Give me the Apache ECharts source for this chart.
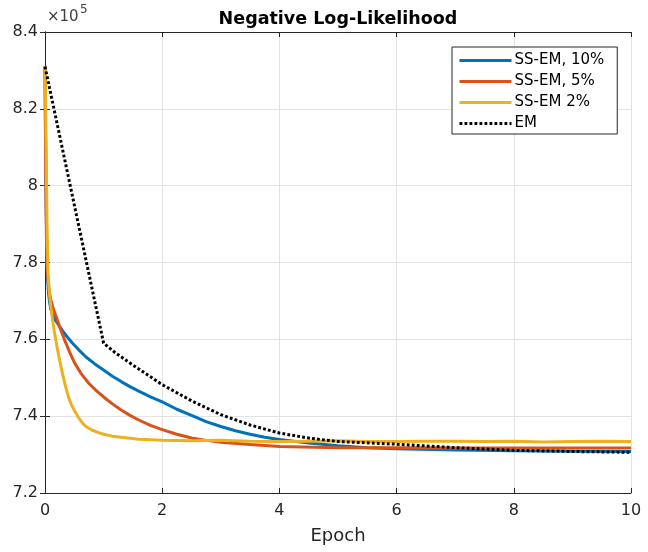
<!DOCTYPE html>
<html>
<head>
<meta charset="utf-8">
<script src="https://cdn.jsdelivr.net/npm/echarts@6/dist/echarts.min.js"></script>
<style>
  html, body { margin: 0; padding: 0; background: #fff; }
  #chart { width: 648px; height: 552px; }
</style>
</head>
<body>
<div id="chart"></div>
<script>
// values in units of 1e5
var ss10Epoch = [0, 0.01, 0.02, 0.03, 0.045, 0.06, 0.08, 0.1, 0.13, 0.17, 0.22, 0.3, 0.38, 0.47, 0.58, 0.7, 0.85, 1.0, 1.15, 1.3, 1.45, 1.6, 1.8, 2.0, 2.25, 2.5, 2.75, 3.0, 3.25, 3.5, 3.75, 4.0, 4.5, 5.0, 5.5, 6.0, 7.0, 8.0, 9.0, 10.0];
var ss10Value = [8.31, 8.12, 7.95, 7.84, 7.76, 7.72, 7.695, 7.678, 7.664, 7.652, 7.64, 7.622, 7.606, 7.59, 7.572, 7.554, 7.536, 7.52, 7.504, 7.49, 7.477, 7.465, 7.45, 7.437, 7.418, 7.402, 7.386, 7.373, 7.362, 7.353, 7.345, 7.339, 7.330, 7.323, 7.318, 7.315, 7.312, 7.310, 7.309, 7.308];

var ss5Epoch = [0, 0.008, 0.016, 0.025, 0.035, 0.05, 0.07, 0.1, 0.14, 0.2, 0.26, 0.33, 0.42, 0.5, 0.62, 0.75, 0.88, 1.0, 1.15, 1.3, 1.45, 1.6, 1.8, 2.0, 2.25, 2.5, 2.75, 3.0, 3.5, 4.0, 5.0, 6.0, 7.0, 8.0, 9.0, 10.0];
var ss5Value = [8.31, 8.12, 7.97, 7.86, 7.79, 7.755, 7.728, 7.703, 7.68, 7.655, 7.628, 7.60, 7.567, 7.54, 7.51, 7.485, 7.466, 7.450, 7.432, 7.416, 7.402, 7.39, 7.376, 7.365, 7.353, 7.343, 7.337, 7.332, 7.326, 7.321, 7.318, 7.318, 7.317, 7.317, 7.317, 7.317];

var ss2Epoch = [0, 0.01, 0.02, 0.035, 0.05, 0.075, 0.1, 0.13, 0.16, 0.2, 0.25, 0.3, 0.35, 0.4, 0.45, 0.5, 0.57, 0.65, 0.72, 0.8, 0.9, 1.0, 1.15, 1.3, 1.6, 2.0, 2.5, 3.0, 3.5, 4.0, 4.5, 5.0, 5.5, 6.0, 6.5, 7.0, 7.5, 8.0, 8.5, 9.0, 9.5, 10.0];
var ss2Value = [8.31, 8.22, 8.10, 7.90, 7.78, 7.72, 7.685, 7.65, 7.62, 7.585, 7.545, 7.51, 7.478, 7.45, 7.43, 7.415, 7.397, 7.38, 7.371, 7.364, 7.358, 7.353, 7.348, 7.345, 7.340, 7.337, 7.336, 7.337, 7.335, 7.334, 7.335, 7.336, 7.334, 7.334, 7.335, 7.335, 7.334, 7.335, 7.333, 7.334, 7.335, 7.334];

var emEpoch = [0, 1.0, 1.2, 1.5, 2.0, 2.5, 3.0, 3.5, 4.0, 4.5, 5.0, 6.0, 7.0, 8.0, 9.0, 10.0];
var emValue = [8.31, 7.59, 7.565, 7.533, 7.482, 7.44, 7.404, 7.377, 7.356, 7.343, 7.334, 7.327, 7.318, 7.311, 7.308, 7.306];

var xTicks = [0, 10, 2];       // min, max, interval
var yTicks = [7.2, 8.4, 0.2];

var seriesNames = ['SS-EM, 10%', 'SS-EM, 5%', 'SS-EM 2%', 'EM'];
var seriesColors = ['#0072BD', '#D95319', '#EDB120', '#000000'];

function pairs(xs, ys) {
    var out = [];
    for (var i = 0; i < xs.length; i++) out.push([xs[i], ys[i]]);
    return out;
}

var font = 'DejaVu Sans';
var axisColor = '#262626';
var lineW = 3;
var dots = [2.8, 2.2];
var myChart = echarts.init(document.getElementById('chart'), null, { renderer: 'canvas' });

function lineSeries(idx, data, dashed) {
    return {
        name: seriesNames[idx],
        type: 'line',
        data: data,
        showSymbol: false,
        symbol: 'none',
        color: seriesColors[idx],
        lineStyle: { width: lineW, color: seriesColors[idx], type: dashed ? dots : 'solid' },
        animation: false,
        z: 2 + idx
    };
}

var hiddenAxis = {
    axisLabel: { show: false },
    splitLine: { show: false },
    axisLine: { show: true, lineStyle: { color: axisColor, width: 1 } },
    axisTick: { show: true, inside: true, length: 5, lineStyle: { color: axisColor } }
};

var legendData = seriesNames.map(function (n, i) {
    return {
        name: n,
        itemStyle: { opacity: 0 },
        lineStyle: { width: lineW, color: seriesColors[i], type: i === 3 ? dots : 'solid' }
    };
});

myChart.setOption({
    animation: false,
    title: {
        text: 'Negative Log-Likelihood',
        left: 333,
        textAlign: 'center',
        top: 5,
        textStyle: { fontFamily: font, fontSize: 17.5, fontWeight: 'bold', color: '#000' }
    },
    legend: {
        orient: 'vertical',
        left: 452,
        top: 47,
        padding: [6, 13, 3, 6],
        itemWidth: 52,
        itemHeight: 14,
        itemGap: 6,
        backgroundColor: '#fff',
        borderColor: '#262626',
        borderWidth: 1,
        borderRadius: 0,
        textStyle: { fontFamily: font, fontSize: 15, color: '#000', lineHeight: 15, padding: [0, 0, 0, -2] },
        data: legendData
    },
    grid: { left: 45, right: 17, top: 32, bottom: 59 },
    xAxis: [{
        type: 'value',
        min: xTicks[0], max: xTicks[1], interval: xTicks[2],
        name: 'Epoch',
        nameLocation: 'middle',
        nameGap: 34,
        nameTextStyle: { fontFamily: font, fontSize: 18, color: axisColor },
        axisLine: { show: true, onZero: false, lineStyle: { color: axisColor, width: 1 } },
        axisTick: { show: true, inside: true, length: 5, lineStyle: { color: axisColor } },
        axisLabel: { fontFamily: font, fontSize: 16, color: axisColor, margin: 10 },
        splitLine: { show: true, lineStyle: { color: '#e3e3e3', width: 1 } }
    }, Object.assign({
        type: 'value', position: 'top',
        min: xTicks[0], max: xTicks[1], interval: xTicks[2]
    }, hiddenAxis)],
    yAxis: [{
        type: 'value',
        min: yTicks[0], max: yTicks[1], interval: yTicks[2],
        axisLine: { show: true, onZero: false, lineStyle: { color: axisColor, width: 1 } },
        axisTick: { show: true, inside: true, length: 5, lineStyle: { color: axisColor } },
        axisLabel: {
            fontFamily: font, fontSize: 16, color: axisColor, margin: 7,
            formatter: function (v) { return String(+v.toFixed(1)); }
        },
        splitLine: { show: true, lineStyle: { color: '#e3e3e3', width: 1 } }
    }, Object.assign({
        type: 'value', position: 'right',
        min: yTicks[0], max: yTicks[1], interval: yTicks[2]
    }, hiddenAxis)],
    graphic: [
        { type: 'text', left: 47, top: 10, style: { text: '\u00d710', fontFamily: font, fontSize: 15, fill: '#404040' } },
        { type: 'text', left: 80, top: 4, style: { text: '5', fontFamily: font, fontSize: 12, fill: '#404040' } }
    ],
    series: [
        lineSeries(0, pairs(ss10Epoch, ss10Value), false),
        lineSeries(1, pairs(ss5Epoch, ss5Value), false),
        lineSeries(2, pairs(ss2Epoch, ss2Value), false),
        lineSeries(3, pairs(emEpoch, emValue), true)
    ]
});
</script>
</body>
</html>
